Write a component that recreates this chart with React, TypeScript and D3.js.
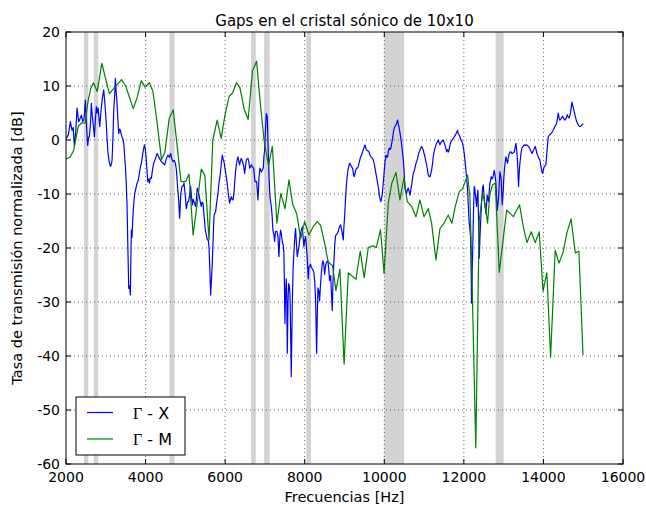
import React from "react";
import * as d3 from "d3";

const xTicks = [2000, 4000, 6000, 8000, 10000, 12000, 14000, 16000];
const yTicks = [20, 10, 0, -10, -20, -30, -40, -50, -60];

const bandStart = [2450, 2700, 4600, 6650, 6980, 8040, 10000, 12800];
const bandEnd = [2560, 2810, 4730, 6770, 7120, 8160, 10500, 13000];

const blueHz = [2010,2060,2109,2151,2180,2210,2245,2277,2319,2355,2386,2420,2455,2487,2520,2546,2570,2588,2615,2638,2655,2672,2695,2714,2740,2764,2785,2806,2830,2848,2870,2890,2920,2948,2975,3007,3030,3057,3085,3116,3140,3158,3180,3200,3225,3242,3260,3283,3305,3325,3345,3367,3390,3409,3430,3451,3475,3493,3515,3535,3555,3577,3600,3618,3630,3644,3660,3677,3700,3728,3755,3786,3815,3845,3870,3895,3930,3970,3990,4012,4035,4054,4075,4096,4120,4146,4175,4205,4245,4289,
4312,4355,4396,4440,4480,4520,4563,4600,4630,4660,4689,4720,4748,4775,4798,4830,4857,4885,4915,4940,4966,4995,5024,5055,5083,5110,5133,5155,5175,5195,5217,5240,5259,5280,5300,5325,5351,5375,5401,5420,5443,5470,5502,5525,5552,5575,5594,5615,5636,5655,5677,5700,5719,5740,5761,5780,5803,5825,5845,5865,5887,5910,5929,5950,5971,6000,6029,6050,6071,6090,6113,6135,6155,6175,6197,6220,6239,6260,6281,6300,6322,6345,6364,6385,6406,6425,6448,6470,6490,6510,6532,6555,6574,6595,6616,6636,6658,6690,6716,
6750,6791,6825,6850,6875,6908,6935,6959,6975,6992,7015,7034,7059,7084,7105,7126,7160,7180,7201,7225,7243,7265,7285,7305,7327,7352,7375,7394,7415,7436,7460,7478,7503,7520,7537,7550,7562,7580,7595,7612,7629,7645,7662,7687,7708,7729,7750,7771,7790,7813,7835,7855,7880,7897,7920,7939,7960,7981,8000,8022,8045,8064,8089,8105,8123,8145,8165,8185,8207,8230,8249,8274,8299,8315,8332,8355,8374,8395,8416,8440,8458,8480,8500,8520,8542,8565,8584,8605,8626,8651,8670,8692,8712,8734,8755,8776,8800,8818,8840,8860,8880,8902,8925,8944,8969,8985,9003,9025,9044,9065,9086,9105,9128,9150,9170,
9204,9230,9246,9275,9305,9325,9346,9375,9405,9430,9455,9485,9514,9535,9556,9585,9614,9640,9665,9695,9723,9750,9782,9810,9832,9855,9874,9895,9916,9940,9958,9980,10000,10020,10042,10063,10084,10105,10125,10145,10167,10190,10209,10230,10251,10270,10293,10315,10335,10350,10368,10390,10410,10430,10452,10475,10494,10519,10540,10561,10580,10603,10625,10645,10665,10687,10710,10729,10750,10770,10790,10812,10835,10854,10875,10896,10918,10938,10960,10980,11000,11022,11045,11064,11085,11106,11128,11148,11170,11189,11210,11231,11252,11273,11295,11315,11337,11357,11378,11399,11420,11441,11462,11483,11505,11525,11546,11567,11590,11616,11645,11675,11705,11733,11760,11784,11815,11842,11860,11884,11905,11926,11950,11968,11990,12010,12030,12052,12075,12094,12115,12135,12152,12169,12185,12194,12205,12219,12240,12261,12275,12286,12303,12320,12335,12353,12370,12387,12405,12420,12438,12454,12470,12487,12505,12521,12538,12554,12570,12588,12605,12621,12638,12655,12672,12688,12705,12722,12742,12764,12785,12806,12822,12839,12856,12873,12890,12906,12923,12940,12952,12965,12978,12990,13005,13023,13040,13057,13078,13099,13120,13141,13162,13183,13205,13224,13245,13266,13288,13308,13330,13350,13375,13392,13409,13435,13459,13490,13517,13545,13576,13600,13626,13650,13677,13693,13710,13730,13752,13775,13794,13815,13836,13855,13869,13890,13911,13928,13945,13960,13978,14000,14020,14040,14062,14090,14121,14160,14205,14245,14289,14330,14373,14395,14414,14450,14481,14510,14540,14570,14599,14625,14649,14680,14716,14750,14791,14830,14875,14905,14934,14965,15000];

const blueDb = [0.3,1.0,3.4,1.8,2.3,-1,1.5,5.9,3.4,4.0,4.6,3.4,4.0,7.4,2.0,-1,0.5,0.6,3.0,6.8,5.0,3.7,2.0,0.6,4.0,6.2,5.0,5.9,4.0,2.5,4.5,6.2,8.0,9.3,7.0,3.7,0.5,-2.5,-4.0,-4.9,-4.5,-3.7,0.5,5.6,8.5,11.4,9.0,6.8,3.5,1.2,2.0,1.8,1.0,0.6,0.2,-0.6,-3.0,-4.9,-8.0,-12.3,-20.0,-27.5,-27.0,-28.7,-22.0,-16.7,-18.0,-14.8,-12.0,-9.9,-9.0,-8,-7.5,-6.2,-5.0,-4.3,-2.5,-0.9,-1.5,-3.1,-5.5,-7.7,-7.2,-8,-7.0,-7.1,-5.5,-4.3,-3.5,-2.5,
-2.8,-3.5,-4,-4.3,-4.6,-3.5,-2.8,-3.2,-2.5,-3.5,-4,-3.8,-4.3,-5.5,-8,-11,-14.5,-10,-8.6,-8.5,-8,-10,-12.7,-11.5,-11.4,-10,-8.6,-10.5,-12,-11.0,-11.4,-12.0,-12.3,-10.5,-8.9,-9.5,-10.5,-11.5,-12.3,-11.5,-11.7,-14,-16.7,-17.5,-18.5,-18.5,-19.8,-24,-28.7,-26,-22.8,-18,-14.2,-13.5,-13.3,-12,-10.8,-9.5,-8,-7,-5.6,-4,-2.8,-3.5,-4,-5.5,-6.8,-8,-9.3,-10.5,-11.7,-11,-10.5,-11,-11.1,-10,-8,-6,-4.6,-3.8,-3.1,-4,-4.6,-3.8,-3.4,-3.8,-4.3,-5,-6.2,-5,-3.7,-3.5,-3.4,-4,-5.2,-5,-4.6,-5,-5.2,
-7.7,-7.7,-11.1,-7,-5.2,-5.9,-5.5,-5.2,-3,-1.9,2,4.9,4.3,-2.5,-7,-10.5,-12.3,-14,-16.7,-17.5,-18.8,-17,-16.9,-17,-17.9,-21.6,-18,-16.7,-17.5,-18.8,-19.5,-21,-34,-28,-25.7,-30,-39.5,-30,-26.6,-27,-28.4,-35,-43.8,-30.5,-24,-20.6,-18,-16.4,-19,-21.6,-20.5,-19.8,-18,-17.3,-16.5,-16.1,-18,-19.8,-18.5,-17.9,-20,-21.9,-25.7,-23.5,-23.5,-23,-23.5,-23.8,-24.1,-24.5,-26,-29.6,-39.5,-33,-27.4,-28,-29.8,-27,-24.9,-23,-22.4,-23,-24.9,-23.5,-22.7,-22.5,-22.4,-24,-26,-25.1,-28,-31.6,-26,-22.4,-19.5,-17.7,-17.5,-17.3,-17,-16.4,-16,-15.7,-16.5,-17.3,-18.5,-16,-14.2,-11,-8.6,-7,-5.6,-5,-4.3,-4.5,-4.9,
-5.2,-6.5,-6.8,-5.8,-5.2,-5.2,-4.9,-4,-3.1,-2.8,-2.2,-1.5,-0.9,-1.5,-1.9,-2,-2.2,-2.8,-3.1,-3.3,-3.7,-4.5,-5.9,-7,-8,-9,-10.2,-11,-11.4,-10.5,-9.3,-7.5,-5.6,-4,-2.8,-3.2,-3.1,-2,-1.5,-1.8,-1.5,-0.5,0.3,1.5,2.2,2.5,2.8,3.2,3.7,3,2.5,1.5,0.6,-0.5,-1.9,-3.5,-5.2,-8.9,-9.5,-9.9,-9.2,-8.9,-9.5,-10.2,-9.3,-8.3,-7,-6.2,-5.8,-5.2,-4.5,-4,-3.5,-2.8,-2.3,-1.9,-1.5,-1.2,-1.5,-1.9,-2.5,-3.1,-4,-4.6,-5.5,-6.5,-6.8,-6.8,-6.2,-5.6,-4.5,-3.1,-2.2,-1.5,-1,-0.6,-0.3,0,-0.5,-0.9,-0.5,-0.3,-0.2,0,-0.5,-0.9,-1.5,-2.2,-1.8,-2.2,-1.2,-0.3,0,0.3,0.6,0.9,1.3,1.8,1.2,0.9,0.5,0,-0.3,-0.6,-1.5,-2.5,-4,-5.6,-7.5,-9.3,-12.5,-15.4,-16.5,-17.9,-25,-30.2,-26,-21.6,-14,-8.6,-9,-9.9,-11,-12.3,-10.5,-9.3,-15,-21.9,-18,-15.4,-12.5,-10.5,-9,-8.3,-10,-11.7,-12.5,-13.6,-12,-10.2,-11,-11.4,-9.5,-8,-7.5,-6.8,-7.2,-7.1,-6.5,-5.6,-6.5,-8,-10.5,-13,-12,-10.5,-8,-5.9,-6.5,-7.4,-10,-12,-10.5,-9.3,-7,-5.2,-4,-3.1,-3.8,-4.3,-3.2,-2.5,-2.2,-2.2,-2.5,-2.5,-2.3,-2.2,-1.4,-0.6,-2,-4,-8.6,-6,-4.3,-2.5,-1.5,-1.2,-0.9,-1,-0.9,-1,-1.2,-1.5,-1.9,-2.2,-2.5,-2.2,-1.9,-1.5,-1.2,-1.8,-2.5,-2.8,-3.1,-3.5,-3.7,-4.5,-5.2,-5.8,-6.2,-5.5,-4.9,-4.8,-4.6,-2,0.6,1,1.3,1.8,2.5,3,5,4,3.7,4,4.4,4,3.7,4,4.7,4.2,4.1,5,7,6,4.7,3.5,2.8,2.5,2.5,2.8,3];

const greenHz = [2000,2100,2190,2250,2310,2400,2480,2550,2620,2690,2785,2900,3090,3230,3395,3500,3690,3790,3890,3990,4095,4185,4285,4400,4485,4595,4695,4890,5010,5092,5195,5310,5400,5490,5594,5690,5800,5900,5995,6100,6185,6285,6370,6478,6578,6688,6790,6892,6978,7090,7186,7300,7400,7504,7605,7700,7798,7898,7997,8106,8215,8316,8400,8500,8590,8700,8785,8885,8990,9095,9288,9395,9495,9598,9715,9800,9905,9995,10100,10190,10293,10393,10494,10578,10687,10796,10896,10997,11106,11189,11298,11399,11499,11608,11700,11784,11884,11968,12030,12094,12152,12200,12300,12385,12470,12529,12596,12655,12722,12789,12890,13075,13243,13400,13492,13585,13693,13794,13894,13990,14085,14180,14296,14390,14490,14590,14695,14800,14891,14995];

const greenDb = [-3.5,-3.2,-2,0.3,2.6,3.2,3.1,7,9.5,10.6,9,14.2,8.6,9.8,11.2,10,5.8,7.9,11,9.8,10.6,9,3.5,-3.6,-2.3,4,5.6,-7.7,-7.7,-6.3,-17.6,-11,-5.4,-6.6,-18.5,0,3.7,0.3,4.6,8.1,8.7,10.6,9.7,5.7,3.8,12.8,14.6,6.2,0,-4.8,-1.2,-15.4,-9.9,-12.7,-7.4,-12,-13.6,-18.3,-15.1,-17.6,-16,-15.1,-15.8,-19.1,-22.6,-23.3,-27.9,-23.9,-41.5,-24.6,-25.8,-20.6,-25.5,-19.9,-19.6,-19.9,-16.6,-24.7,-11.7,-8,-6,-11.1,-7,-11.4,-12.3,-14.2,-11.1,-14.2,-12.7,-15.4,-22.2,-16.4,-15.4,-13.9,-15.4,-12.3,-9.6,-9,-7.8,-6.5,-10.5,-24,-57,-15,-9.9,-11.7,-15.4,-9.9,-8.3,-8,-24.5,-13,-14.2,-12,-16,-19,-17,-19,-17,-28,-24.6,-40.2,-20.4,-22.8,-20.9,-17.2,-14.6,-20.9,-20.6,-39.8];

const W = 646, H = 508;
const L = 66, R = 623, T = 32, B = 464;
const SANS = "'DejaVu Sans', sans-serif";

export default function App() {
  const x = d3.scaleLinear().domain([2000, 16000]).range([L, R]);
  const y = d3.scaleLinear().domain([-60, 20]).range([B, T]);
  const line = d3.line<[number, number]>().x(d => x(d[0])).y(d => y(d[1]));
  const blue = blueHz.map((h, i) => [h, blueDb[i]] as [number, number]);
  const green = greenHz.map((h, i) => [h, greenDb[i]] as [number, number]);

  return (
    <svg width={W} height={H} style={{ position: "absolute", left: 0, top: 0, background: "#fff" }} fontFamily={SANS}>
      <rect x={0} y={0} width={W} height={H} fill="#fff" />
      <defs>
        <clipPath id="plot"><rect x={L} y={T} width={R - L} height={B - T} /></clipPath>
      </defs>
      <g clipPath="url(#plot)">
        {bandStart.map((s, i) => (
          <rect key={i} x={x(s)} y={T} width={x(bandEnd[i]) - x(s)} height={B - T} fill="#d3d3d3" />
        ))}
        <path d={line(blue) || ""} fill="none" stroke="#0000ff" strokeWidth={1.2} strokeLinejoin="round" />
        <path d={line(green) || ""} fill="none" stroke="#008000" strokeWidth={1.2} strokeLinejoin="round" />
      </g>
      {xTicks.slice(1, -1).map(t => (
        <line key={"gx" + t} x1={x(t)} x2={x(t)} y1={T} y2={B} stroke="#000" strokeWidth={0.6} strokeDasharray="1,3" />
      ))}
      {yTicks.slice(1, -1).map(t => (
        <line key={"gy" + t} x1={L} x2={R} y1={y(t)} y2={y(t)} stroke="#000" strokeWidth={0.6} strokeDasharray="1,3" />
      ))}
      <rect x={L} y={T} width={R - L} height={B - T} fill="none" stroke="#000" strokeWidth={1} />
      {xTicks.map(t => (
        <g key={"tx" + t}>
          <line x1={x(t)} x2={x(t)} y1={B} y2={B - 5} stroke="#000" />
          <line x1={x(t)} x2={x(t)} y1={T} y2={T + 5} stroke="#000" />
          <text x={x(t)} y={482} textAnchor="middle" fontSize={14}>{t}</text>
        </g>
      ))}
      {yTicks.map(t => (
        <g key={"ty" + t}>
          <line x1={L} x2={L + 5} y1={y(t)} y2={y(t)} stroke="#000" />
          <line x1={R} x2={R - 5} y1={y(t)} y2={y(t)} stroke="#000" />
          <text x={60} y={y(t) + 5} textAnchor="end" fontSize={14}>{t}</text>
        </g>
      ))}
      <text x={(L + R) / 2} y={26} textAnchor="middle" fontSize={15}>Gaps en el cristal sónico de 10x10</text>
      <text x={(L + R) / 2} y={502} textAnchor="middle" fontSize={14.5}>Frecuencias [Hz]</text>
      <text transform={`translate(22,${(T + B) / 2}) rotate(-90)`} textAnchor="middle" fontSize={14.5}>Tasa de transmisión normalizada [dB]</text>
      <g>
        <rect x={76} y={397} width={109} height={58} fill="#fff" stroke="#000" strokeWidth={1} />
        <line x1={87} x2={113} y1={412.5} y2={412.5} stroke="#0000ff" strokeWidth={1.2} />
        <line x1={87} x2={113} y1={439} y2={439} stroke="#008000" strokeWidth={1.2} />
        <text x={133} y={418.5} fontSize={16}><tspan fontFamily="'Liberation Serif', serif">Γ</tspan> - X</text>
        <text x={133} y={445} fontSize={16}><tspan fontFamily="'Liberation Serif', serif">Γ</tspan> - M</text>
      </g>
    </svg>
  );
}
